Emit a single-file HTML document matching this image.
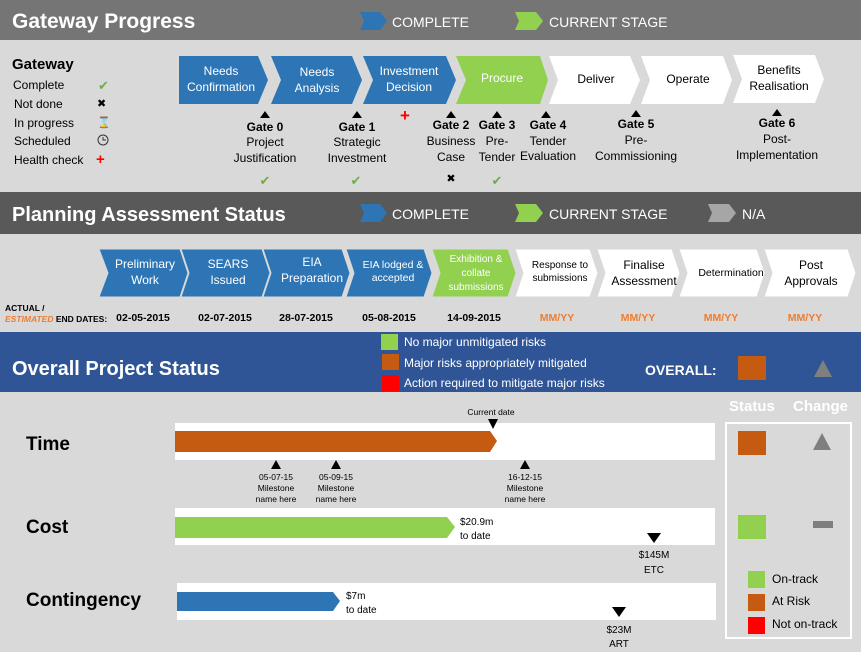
<!DOCTYPE html>
<html><head><style>body{margin:0}svg{display:block}text{font-family:"Liberation Sans",sans-serif}</style></head><body>
<svg width="861" height="652" viewBox="0 0 861 652" xmlns="http://www.w3.org/2000/svg">
<rect width="861" height="652" fill="#d9d9d9"/>
<rect x="0" y="0" width="861" height="40" fill="#757575"/>
<text x="12" y="28" font-size="21" font-weight="bold" fill="#fff">Gateway Progress</text>
<polygon points="360,12 380,12 387,21 380,30 360,30 364,21" fill="#2e75b6"/>
<text x="392" y="27" font-size="14" fill="#fff">COMPLETE</text>
<polygon points="515,12 536,12 543,21 536,30 515,30 519,21" fill="#92d050"/>
<text x="549" y="27" font-size="14" fill="#fff">CURRENT STAGE</text>
<text x="12" y="69" font-size="15" font-weight="bold" fill="#000">Gateway</text>
<g font-size="12" fill="#000">
<text x="13" y="89">Complete</text><text x="14" y="108">Not done</text><text x="14" y="127">In progress</text><text x="14" y="145">Scheduled</text><text x="14" y="164">Health check</text></g>
<text x="98" y="90" font-size="13" fill="#70ad47">✔</text>
<text x="97" y="107" font-size="11" fill="#000">✖</text>
<text x="97" y="126" font-size="11" fill="#444">⌛</text>
<circle cx="103" cy="140" r="5" fill="none" stroke="#333"/><path d="M103,137v3h3" stroke="#333" fill="none"/>
<text x="96" y="164" font-size="15" font-weight="bold" fill="#f00">+</text>
<g font-size="12" text-anchor="middle">
<polygon points="179,56 258,56 268,80 258,104 179,104" fill="#2e75b6"/>
<text x="221" y="75" fill="#fff">Needs</text><text x="221" y="91" fill="#fff">Confirmation</text>
<polygon points="271,56 352,56 362,80 352,104 271,104 281,80" fill="#2e75b6"/>
<text x="317" y="76" fill="#fff">Needs</text><text x="317" y="92" fill="#fff">Analysis</text>
<polygon points="363,56 446,56 456,80 446,104 363,104 373,80" fill="#2e75b6"/>
<text x="409" y="75" fill="#fff">Investment</text><text x="409" y="91" fill="#fff">Decision</text>
<polygon points="456,56 540,56 548,80 540,104 456,104 466,80" fill="#92d050"/>
<text x="502" y="82" fill="#fff">Procure</text>
<polygon points="549,56 630,56 640,80 630,104 549,104 558,80" fill="#fff"/>
<text x="596" y="83" fill="#000">Deliver</text>
<polygon points="641,56 723,56 732,80 723,104 641,104 650,80" fill="#fff"/>
<text x="688" y="83" fill="#000">Operate</text>
<polygon points="733,55 815,55 824,79 815,103 733,103 742,79" fill="#fff"/>
<text x="779" y="74" fill="#000">Benefits</text><text x="779" y="90" fill="#000">Realisation</text>
</g>
<g font-size="12" text-anchor="middle" fill="#000">
<polygon points="265,111 260,118 270,118"/><text x="265" y="131" font-weight="bold">Gate 0</text><text x="265" y="146">Project</text><text x="265" y="162">Justification</text>
<polygon points="357,111 352,118 362,118"/><text x="357" y="131" font-weight="bold">Gate 1</text><text x="357" y="146">Strategic</text><text x="357" y="162">Investment</text>
<polygon points="451,111 446,118 456,118"/><text x="451" y="129" font-weight="bold">Gate 2</text><text x="451" y="145">Business</text><text x="451" y="161">Case</text>
<polygon points="497,111 492,118 502,118"/><text x="497" y="129" font-weight="bold">Gate 3</text><text x="497" y="145">Pre-</text><text x="497" y="161">Tender</text>
<polygon points="546,111 541,118 551,118"/><text x="548" y="129" font-weight="bold">Gate 4</text><text x="548" y="145">Tender</text><text x="548" y="160">Evaluation</text>
<polygon points="636,110 631,117 641,117"/><text x="636" y="128" font-weight="bold">Gate 5</text><text x="636" y="144">Pre-</text><text x="636" y="160">Commissioning</text>
<polygon points="777,109 772,116 782,116"/><text x="777" y="127" font-weight="bold">Gate 6</text><text x="777" y="143">Post-</text><text x="777" y="159">Implementation</text>
</g>
<text x="405" y="121" font-size="17" font-weight="bold" fill="#f00" text-anchor="middle">+</text>
<g font-size="13" fill="#70ad47" text-anchor="middle"><text x="265" y="185">✔</text><text x="356" y="185">✔</text><text x="497" y="185">✔</text></g>
<text x="451" y="182" font-size="11" text-anchor="middle">✖</text>
<rect x="0" y="192" width="861" height="42" fill="#595959"/>
<text x="12" y="221" font-size="20" font-weight="bold" fill="#fff">Planning Assessment Status</text>
<polygon points="360,204 380,204 387,213 380,222 360,222 364,213" fill="#2e75b6"/>
<text x="392" y="219" font-size="14" fill="#fff">COMPLETE</text>
<polygon points="515,204 536,204 543,213 536,222 515,222 519,213" fill="#92d050"/>
<text x="549" y="219" font-size="14" fill="#fff">CURRENT STAGE</text>
<polygon points="708,204 729,204 736,213 729,222 708,222 712,213" fill="#a6a6a6"/>
<text x="742" y="219" font-size="14" fill="#fff">N/A</text>
<g text-anchor="middle" stroke="#d9d9d9" stroke-width="1">
<polygon points="99,249 180,249 188,273 180,297 99,297 108,273" fill="#2e75b6"/>
<polygon points="181,249 262,249 270,273 262,297 181,297 189,273" fill="#2e75b6"/>
<polygon points="263,249 342,249 350,273 342,297 263,297 271,273" fill="#2e75b6"/>
<polygon points="346,249 424,249 432,273 424,297 346,297 354,273" fill="#2e75b6"/>
<polygon points="432,249 508,249 516,273 508,297 432,297 440,273" fill="#92d050"/>
<polygon points="515,249 590,249 598,273 590,297 515,297 523,273" fill="#fff"/>
<polygon points="597,249 672,249 680,273 672,297 597,297 605,273" fill="#fff"/>
<polygon points="679,249 757,249 765,273 757,297 679,297 687,273" fill="#fff"/>
<polygon points="764,249 848,249 856,273 848,297 764,297 772,273" fill="#fff"/>
</g>
<g text-anchor="middle" fill="#fff" font-size="12">
<text x="145" y="268">Preliminary</text><text x="145" y="284">Work</text>
<text x="228" y="268">SEARS</text><text x="228" y="284">Issued</text>
<text x="312" y="266">EIA</text><text x="312" y="282">Preparation</text>
<text x="393" y="268" font-size="10.5">EIA lodged &amp;</text><text x="393" y="281" font-size="10.5">accepted</text>
<text x="476" y="262" font-size="10">Exhibition &amp;</text><text x="476" y="276" font-size="10">collate</text><text x="476" y="290" font-size="10">submissions</text>
<g fill="#000"><text x="560" y="268" font-size="10">Response to</text><text x="560" y="281" font-size="10">submissions</text>
<text x="644" y="269">Finalise</text><text x="644" y="285">Assessment</text>
<text x="731" y="276" font-size="10.5">Determination</text>
<text x="811" y="269">Post</text><text x="811" y="285">Approvals</text></g>
</g>
<text x="5" y="311" font-size="8.5" font-weight="bold">ACTUAL /</text>
<text x="5" y="322" font-size="8.5" font-weight="bold"><tspan fill="#ed7d31" font-style="italic">ESTIMATED</tspan> END DATES:</text>
<g font-size="10.5" font-weight="bold" text-anchor="middle">
<text x="143" y="321">02-05-2015</text><text x="225" y="321">02-07-2015</text><text x="306" y="321">28-07-2015</text><text x="389" y="321">05-08-2015</text><text x="474" y="321">14-09-2015</text>
<g fill="#ed7d31"><text x="557" y="321">MM/YY</text><text x="638" y="321">MM/YY</text><text x="721" y="321">MM/YY</text><text x="805" y="321">MM/YY</text></g>
</g>
<rect x="0" y="332" width="861" height="60" fill="#2f5597"/>
<text x="12" y="375" font-size="20" font-weight="bold" fill="#fff">Overall Project Status</text>
<rect x="381" y="334" width="17" height="16" fill="#92d050"/>
<rect x="382" y="354" width="17" height="16" fill="#c55a11"/>
<rect x="382" y="375" width="17" height="16" fill="#f00"/>
<g font-size="12" fill="#fff"><text x="404" y="346">No major unmitigated risks</text><text x="404" y="367">Major risks appropriately mitigated</text><text x="404" y="387">Action required to mitigate major risks</text></g>
<text x="645" y="375" font-size="14" font-weight="bold" fill="#fff">OVERALL:</text>
<rect x="738" y="356" width="28" height="24" fill="#c55a11"/>
<polygon points="823,360 814,377 832,377" fill="#7f7f7f"/>
<text x="729" y="411" font-size="15" font-weight="bold" fill="#fff">Status</text>
<text x="793" y="411" font-size="15" font-weight="bold" fill="#fff">Change</text>
<rect x="726" y="423" width="125" height="215" fill="none" stroke="#fff" stroke-width="2"/>
<g font-size="19" font-weight="bold"><text x="26" y="450">Time</text><text x="26" y="533">Cost</text><text x="26" y="606">Contingency</text></g>
<rect x="175" y="423" width="540" height="37" fill="#fff"/>
<polygon points="175,431 490,431 497,441 490,452 175,452" fill="#c55a11"/>
<text x="491" y="415" font-size="8.5" text-anchor="middle">Current date</text>
<polygon points="488,419 498,419 493,429"/>
<g font-size="8.5" text-anchor="middle">
<polygon points="276,460 271,469 281,469"/><text x="276" y="480">05-07-15</text><text x="276" y="491">Milestone</text><text x="276" y="502">name here</text>
<polygon points="336,460 331,469 341,469"/><text x="336" y="480">05-09-15</text><text x="336" y="491">Milestone</text><text x="336" y="502">name here</text>
<polygon points="525,460 520,469 530,469"/><text x="525" y="480">16-12-15</text><text x="525" y="491">Milestone</text><text x="525" y="502">name here</text>
</g>
<rect x="175" y="508" width="540" height="37" fill="#fff"/>
<polygon points="175,517 447,517 455,527 447,538 175,538" fill="#92d050"/>
<g font-size="10"><text x="460" y="525">$20.9m</text><text x="460" y="539">to date</text></g>
<polygon points="647,533 661,533 654,543"/>
<g font-size="10" text-anchor="middle"><text x="654" y="558">$145M</text><text x="654" y="573">ETC</text></g>
<rect x="177" y="583" width="539" height="37" fill="#fff"/>
<polygon points="177,592 333,592 340,601 333,611 177,611" fill="#2e75b6"/>
<g font-size="10"><text x="346" y="599">$7m</text><text x="346" y="613">to date</text></g>
<polygon points="612,607 626,607 619,617"/>
<g font-size="10" text-anchor="middle"><text x="619" y="633">$23M</text><text x="619" y="647">ART</text></g>
<rect x="738" y="431" width="28" height="24" fill="#c55a11"/>
<polygon points="822,433 813,450 831,450" fill="#7f7f7f"/>
<rect x="738" y="515" width="28" height="24" fill="#92d050"/>
<rect x="813" y="521" width="20" height="7" fill="#7f7f7f"/>
<rect x="748" y="571" width="17" height="17" fill="#92d050"/>
<rect x="748" y="594" width="17" height="17" fill="#c55a11"/>
<rect x="748" y="617" width="17" height="17" fill="#f00"/>
<g font-size="12"><text x="772" y="583">On-track</text><text x="772" y="605">At Risk</text><text x="772" y="628">Not on-track</text></g>
</svg>
</body></html>
